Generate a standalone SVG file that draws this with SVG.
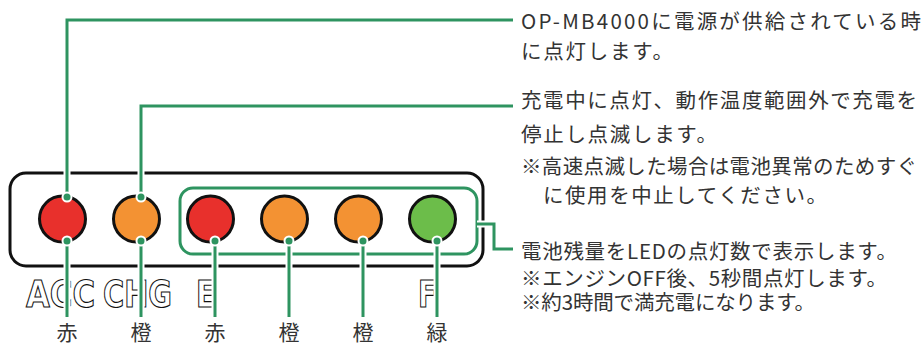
<svg xmlns="http://www.w3.org/2000/svg" width="923" height="346" viewBox="0 0 923 346">
  <style>
    .led { stroke: #111; stroke-width: 3; }
    .red { fill: #e8302c; }
    .org { fill: #f39233; }
    .grn { fill: #6cbd4a; }
    .halo { fill: none; stroke: #fff; stroke-width: 7; }
    .wire { fill: none; stroke: #2e9460; stroke-width: 3; }
    .dotw { fill: #fff; }
    .dotg { fill: #2e9460; }
    .lbl { font-family: "DejaVu Sans Condensed", "DejaVu Sans", sans-serif; font-weight: bold; font-size: 38px; fill: #fff; stroke: #111; stroke-width: 1.1; }
    .txt { font-family: "Noto Sans CJK JP", "Noto Sans", sans-serif; font-size: 20.5px; fill: #333; }
    .col { font-family: "Noto Sans CJK JP", "Noto Sans", sans-serif; font-size: 21px; fill: #333; }
  </style>

  <g id="panel">
    <rect x="10" y="173" width="473" height="93" rx="16" fill="none" stroke="#111" stroke-width="3"/>
  </g>
  <g id="battery-group">
    <rect x="180" y="188" width="297" height="66" rx="13" fill="none" stroke="#2e9460" stroke-width="3"/>
  </g>

  <g id="labels">
    <text class="lbl" x="26" y="307" textLength="69" lengthAdjust="spacingAndGlyphs">ACC</text>
    <text class="lbl" x="103" y="307" textLength="69" lengthAdjust="spacingAndGlyphs">CHG</text>
    <text class="lbl" x="196" y="307" textLength="20" lengthAdjust="spacingAndGlyphs">E</text>
    <text class="lbl" x="418" y="307" textLength="19" lengthAdjust="spacingAndGlyphs">F</text>
  </g>

  <g id="led-acc"><circle class="led red" cx="62.5" cy="219" r="23"/></g>
  <g id="led-chg"><circle class="led org" cx="136.5" cy="219" r="23"/></g>
  <g id="led-e"><circle class="led red" cx="210.5" cy="219" r="23"/></g>
  <g id="led-2"><circle class="led org" cx="284.5" cy="219" r="23"/></g>
  <g id="led-3"><circle class="led org" cx="358.5" cy="219" r="23"/></g>
  <g id="led-f"><circle class="led grn" cx="432.5" cy="219" r="23"/></g>

  <g id="connectors">
    <path class="halo" d="M67 197 V20 H513"/>
    <path class="halo" d="M141 197 V106 H513"/>
    <path class="halo" d="M477 224 H494 V249 H513"/>
    <path class="halo" d="M67 241 V317 M141 241 V317 M215 241 V317 M289 241 V317 M363 241 V317 M437 241 V317"/>
    <path class="wire" d="M67 197 V20 H513"/>
    <path class="wire" d="M141 197 V106 H513"/>
    <path class="wire" d="M477 224 H494 V249 H513"/>
    <path class="wire" d="M67 241 V317 M141 241 V317 M215 241 V317 M289 241 V317 M363 241 V317 M437 241 V317"/>
    <g class="dotw">
      <circle cx="67" cy="197" r="5.5"/><circle cx="141" cy="197" r="5.5"/>
      <circle cx="67" cy="241" r="5.5"/><circle cx="141" cy="241" r="5.5"/><circle cx="215" cy="241" r="5.5"/>
      <circle cx="289" cy="241" r="5.5"/><circle cx="363" cy="241" r="5.5"/><circle cx="437" cy="241" r="5.5"/>
    </g>
    <g class="dotg">
      <circle cx="67" cy="197" r="3.5"/><circle cx="141" cy="197" r="3.5"/>
      <circle cx="67" cy="241" r="3.5"/><circle cx="141" cy="241" r="3.5"/><circle cx="215" cy="241" r="3.5"/>
      <circle cx="289" cy="241" r="3.5"/><circle cx="363" cy="241" r="3.5"/><circle cx="437" cy="241" r="3.5"/>
    </g>
  </g>

  <g id="colours">
    <text class="col" x="67" y="340" text-anchor="middle">赤</text>
    <text class="col" x="141" y="340" text-anchor="middle">橙</text>
    <text class="col" x="215" y="340" text-anchor="middle">赤</text>
    <text class="col" x="289" y="340" text-anchor="middle">橙</text>
    <text class="col" x="363" y="340" text-anchor="middle">橙</text>
    <text class="col" x="437" y="340" text-anchor="middle">緑</text>
  </g>

  <g id="notes">
    <text class="txt" x="521" y="29" textLength="400" lengthAdjust="spacing">OP-MB4000に電源が供給されている時</text>
    <text class="txt" x="521" y="59" textLength="152" lengthAdjust="spacing">に点灯します。</text>
    <text class="txt" x="521" y="108" textLength="396" lengthAdjust="spacing">充電中に点灯、動作温度範囲外で充電を</text>
    <text class="txt" x="521" y="142" textLength="196" lengthAdjust="spacing">停止し点滅します。</text>
    <text class="txt" x="521" y="174" textLength="396" lengthAdjust="spacing">※高速点滅した場合は電池異常のためすぐ</text>
    <text class="txt" x="543" y="203" textLength="284" lengthAdjust="spacing">に使用を中止してください。</text>
    <text class="txt" x="521" y="259" textLength="376" lengthAdjust="spacing">電池残量をLEDの点灯数で表示します。</text>
    <text class="txt" x="521" y="286" textLength="366" lengthAdjust="spacing">※エンジンOFF後、5秒間点灯します。</text>
    <text class="txt" x="521" y="310" textLength="294" lengthAdjust="spacing">※約3時間で満充電になります。</text>
  </g>
</svg>
